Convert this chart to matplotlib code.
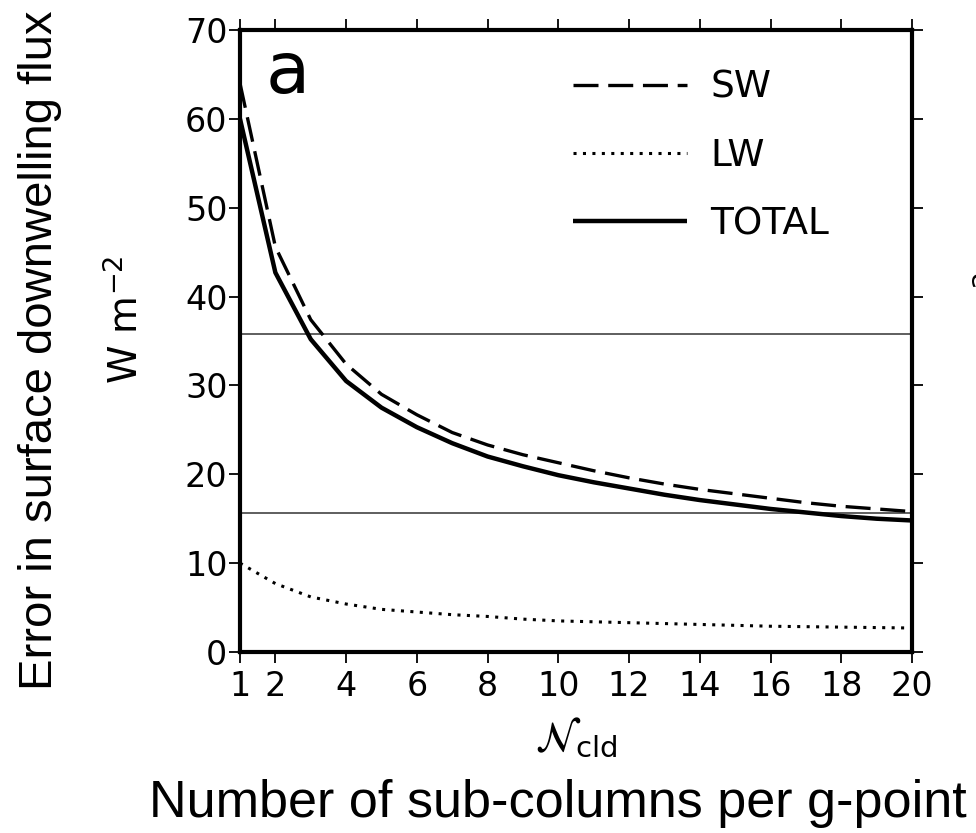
import matplotlib
matplotlib.use("Agg")
import matplotlib.pyplot as plt
from matplotlib.ticker import FixedLocator

plt.rcParams['lines.scale_dashes'] = False
plt.rcParams['mathtext.fontset'] = 'dejavusans'

# Number of sub-columns per g-point
n_cld = [1, 2, 3, 4, 5, 6, 7, 8, 9, 10, 11, 12, 13, 14, 15, 16, 17, 18, 19, 20]

# Error in surface downwelling flux (W m-2)
sw_err = [64.0, 45.6, 37.4, 32.4, 29.0, 26.7, 24.7, 23.3, 22.2, 21.3, 20.4,
          19.6, 18.9, 18.3, 17.8, 17.3, 16.8, 16.4, 16.1, 15.8]
lw_err = [10.0, 7.7, 6.2, 5.4, 4.8, 4.5, 4.2, 4.0, 3.7, 3.5, 3.4,
          3.3, 3.2, 3.1, 3.0, 2.9, 2.85, 2.8, 2.75, 2.7]
total_err = [60.0, 42.7, 35.2, 30.5, 27.5, 25.3, 23.5, 22.0, 20.9, 19.9, 19.1,
             18.4, 17.7, 17.1, 16.6, 16.1, 15.7, 15.3, 15.0, 14.8]

# Reference levels
ref_levels = [35.8, 15.6]

x_ticks = [1, 2, 4, 6, 8, 10, 12, 14, 16, 18, 20]
y_ticks = [0, 10, 20, 30, 40, 50, 60, 70]

W, H = 976, 833
fig = plt.figure(figsize=(W / 100, H / 100), dpi=100)
ax = fig.add_axes([240 / W, 1 - 652 / H, 672 / W, 622 / H])

tick_font = 'DejaVu Sans'

for lvl in ref_levels:
    ax.axhline(lvl, color='#333333', lw=1.1, zorder=1)

ax.plot(n_cld, sw_err, color='black', lw=2.4, dashes=(18, 7), label='SW', zorder=3)
ax.plot(n_cld, lw_err, color='black', lw=2.2, dashes=(2.2, 4.6), label='LW', zorder=3)
ax.plot(n_cld, total_err, color='black', lw=3.2, solid_capstyle='butt', label='TOTAL', zorder=3)

ax.set_xlim(1, 20)
ax.set_ylim(0, 70)
ax.xaxis.set_major_locator(FixedLocator(x_ticks))
ax.yaxis.set_major_locator(FixedLocator(y_ticks))
ax.set_xticklabels([str(v) for v in x_ticks], fontsize=24, family=tick_font)
ax.set_yticklabels([str(v) for v in y_ticks], fontsize=24, family=tick_font)
ax.tick_params(axis='both', direction='out', length=8, width=1.3,
               top=True, right=True, labeltop=False, labelright=False)
ax.tick_params(axis='x', pad=5)
ax.tick_params(axis='y', pad=1)

for side in ['left', 'right', 'top', 'bottom']:
    ax.spines[side].set_linewidth(3.0)

leg = ax.legend(loc='upper left', bbox_to_anchor=((573 - 240) / 672, (652 - 70) / 622),
                frameon=False, borderpad=0, borderaxespad=0, handlelength=3.05,
                handletextpad=0.62, labelspacing=0.86,
                prop={'family': tick_font, 'size': 27})

ax.text(0.038, 0.985, 'a', transform=ax.transAxes, fontsize=52,
        family=tick_font, va='top', ha='left')

# Axis titles
fig.text(40 / W, 1 - 350 / H, 'Error in surface downwelling flux', rotation=90,
         ha='center', va='center', fontsize=34, family='Liberation Sans')
fig.text(126 / W, 1 - 320 / H, r'W m$^{-2}$', rotation=90, ha='center', va='center',
         fontsize=28, family=tick_font)
# unit label of the neighbouring panel, clipped at the figure edge
fig.text(996 / W, 1 - 336 / H, r'W m$^{-2}$', rotation=90, ha='center', va='center',
         fontsize=28, family=tick_font)
fig.text(576 / W, 1 - 738 / H, r'$\mathcal{N}_{\mathrm{cld}}$', ha='center', va='center',
         fontsize=30)
fig.text(558 / W, 1 - 803 / H, 'Number of sub-columns per g-point', ha='center',
         va='center', fontsize=37.5, family='Liberation Sans')

fig.savefig('out.png', dpi=100)
